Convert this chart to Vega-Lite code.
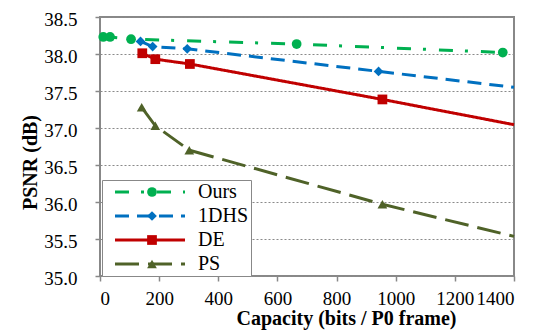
{
  "$schema": "https://vega.github.io/schema/vega-lite/v6.json",
  "width": 414,
  "height": 259,
  "autosize": "none",
  "padding": {"left": 100, "top": 17, "right": 23, "bottom": 55},
  "background": "white",
  "config": {
    "view": {"stroke": "#888888", "strokeWidth": 2},
    "font": "Liberation Serif",
    "axis": {
      "labelFont": "Liberation Serif", "labelFontSize": 19, "labelColor": "black",
      "titleFont": "Liberation Serif", "titleFontSize": 20, "titleFontWeight": "bold", "titleColor": "black",
      "tickSize": 5, "tickColor": "#888888", "tickWidth": 1.5, "domain": false, "labelOverlap": false
    },
    "legend": {"labelFont": "Liberation Serif", "labelFontSize": 20, "labelColor": "black"}
  },
  "data": {
    "values": [
      {"series": "Ours", "x": 11, "y": 38.23, "marker": true},
      {"series": "Ours", "x": 34, "y": 38.23, "marker": true},
      {"series": "Ours", "x": 105, "y": 38.2, "marker": true},
      {"series": "Ours", "x": 665, "y": 38.135, "marker": true},
      {"series": "Ours", "x": 1362, "y": 38.02, "marker": true},
      {"series": "1DHS", "x": 137, "y": 38.17, "marker": true},
      {"series": "1DHS", "x": 178, "y": 38.1, "marker": true},
      {"series": "1DHS", "x": 295, "y": 38.07, "marker": true},
      {"series": "1DHS", "x": 942, "y": 37.765, "marker": true},
      {"series": "1DHS", "x": 1400, "y": 37.55, "marker": false},
      {"series": "DE", "x": 143, "y": 38.01, "marker": true},
      {"series": "DE", "x": 187, "y": 37.93, "marker": true},
      {"series": "DE", "x": 304, "y": 37.865, "marker": true},
      {"series": "DE", "x": 955, "y": 37.386, "marker": true},
      {"series": "DE", "x": 1400, "y": 37.045, "marker": false},
      {"series": "PS", "x": 141, "y": 37.28, "marker": true},
      {"series": "PS", "x": 187, "y": 37.03, "marker": true},
      {"series": "PS", "x": 302, "y": 36.7, "marker": true},
      {"series": "PS", "x": 955, "y": 35.97, "marker": true},
      {"series": "PS", "x": 1400, "y": 35.535, "marker": false}
    ]
  },
  "encoding": {
    "x": {
      "field": "x", "type": "quantitative",
      "scale": {"domain": [0, 1400], "nice": false},
      "axis": {
        "values": [0, 200, 400, 600, 800, 1000, 1200, 1400],
        "format": "d",
        "title": "Capacity (bits / P0 frame)",
        "titleX": 246, "titleY": 32, "titleBaseline": "top",
        "labelPadding": 8, "grid": false
      }
    },
    "y": {
      "field": "y", "type": "quantitative",
      "scale": {"domain": [35, 38.5], "nice": false, "zero": false},
      "axis": {
        "values": [35, 35.5, 36, 36.5, 37, 37.5, 38, 38.5],
        "format": ".1f",
        "title": "PSNR (dB)",
        "titleX": -60, "titleY": 145,
        "labelPadding": 18, "labelOffset": 2,
        "grid": true, "gridColor": "#8a8a8a", "gridDash": [2, 2], "gridWidth": 1.2
      }
    }
  },
  "layer": [
    {
      "mark": {"type": "line", "strokeWidth": 3, "strokeCap": "butt"},
      "encoding": {
        "order": {"field": "x", "type": "quantitative"},
        "color": {
          "field": "series", "type": "nominal",
          "scale": {"domain": ["Ours", "1DHS", "DE", "PS"], "range": ["#00B050", "#0070C0", "#C00000", "#4F6228"]},
          "legend": {
            "orient": "none", "legendX": 2, "legendY": 163, "title": null,
            "symbolType": "M-5,0H5", "symbolSize": 196, "symbolStrokeWidth": 3,
            "symbolOffset": 36, "labelOffset": 38,
            "padding": 2, "rowPadding": 4,
            "strokeColor": "#888888", "fillColor": "white",
            "encode": {"symbols": {"update": {"strokeDash": {"scale": "strokeDash", "field": "value"}}}}
          }
        },
        "strokeDash": {
          "field": "series", "type": "nominal",
          "scale": {"domain": ["Ours", "1DHS", "DE", "PS"], "range": [[14, 12, 3, 13], [14, 8], [1, 0], [24, 9]]},
          "legend": null
        }
      }
    },
    {
      "transform": [{"filter": "datum.marker"}],
      "mark": {
        "type": "point", "filled": true, "opacity": 1, "size": 95,
        "shape": {"expr": "datum.value === '1DHS' ? 'diamond' : datum.value === 'DE' ? 'square' : datum.value === 'PS' ? 'triangle-up' : 'circle'"}
      },
      "encoding": {
        "color": {
          "field": "series", "type": "nominal",
          "scale": {"domain": ["Ours", "1DHS", "DE", "PS"], "range": ["#00B050", "#0070C0", "#C00000", "#4F6228"]},
          "legend": {
            "orient": "none", "legendX": 2, "legendY": 163, "title": null,
            "symbolSize": 95, "symbolOffset": 38, "symbolStrokeWidth": 0,
            "labelOpacity": 0, "padding": 2, "rowPadding": 4
          }
        },
        "shape": {
          "field": "series", "type": "nominal",
          "scale": {"domain": ["Ours", "1DHS", "DE", "PS"], "range": ["circle", "diamond", "square", "triangle-up"]},
          "legend": null
        }
      }
    }
  ],
  "resolve": {"scale": {"color": "independent"}}
}
